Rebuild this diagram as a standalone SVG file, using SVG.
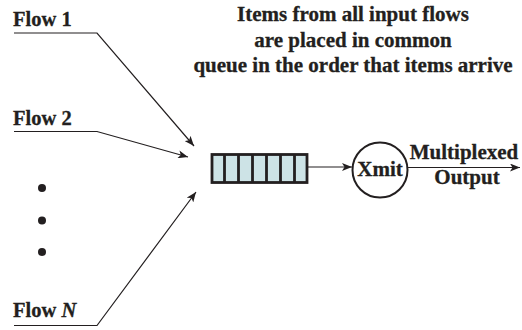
<svg xmlns="http://www.w3.org/2000/svg" width="522" height="330" viewBox="0 0 522 330">
<style>
text{font-family:"Liberation Serif","Times New Roman",serif;font-weight:bold;fill:#231f20;stroke:#231f20;stroke-width:0.3}
.t{font-size:21px;text-anchor:middle}
.f{font-size:20.5px}
.c{fill:none;stroke:#231f20;stroke-width:1.2}
</style>
<defs>
<marker id="ah" markerUnits="userSpaceOnUse" markerWidth="10" markerHeight="8" viewBox="0 0 10 8" refX="10" refY="4" orient="auto">
<path d="M0,0 L10,4 L0,8 L2.5,4 Z" fill="#231f20"/>
</marker>
</defs>
<g id="title">
<text class="t" x="353" y="21">Items from all input flows</text>
<text class="t" x="353" y="46.5">are placed in common</text>
<text class="t" x="353" y="72">queue in the order that items arrive</text>
</g>
<g id="flow1"><text class="f" x="13" y="26">Flow 1</text></g>
<g id="flow2"><text class="f" x="13" y="124.5">Flow 2</text></g>
<g id="flowN"><text class="f" x="13" y="317">Flow <tspan font-style="italic">N</tspan></text></g>
<g id="dots" fill="#231f20">
<circle cx="42" cy="188" r="4"/>
<circle cx="42" cy="220.5" r="4"/>
<circle cx="42" cy="252" r="4"/>
</g>
<g id="queue">
<rect x="212" y="154.5" width="95" height="28" fill="#cde3e6" stroke="#231f20" stroke-width="2.8"/>
<path d="M224.5,154.5V182.5M238.5,154.5V182.5M252.5,154.5V182.5M266.5,154.5V182.5M280.5,154.5V182.5M294.5,154.5V182.5" stroke="#231f20" stroke-width="2.8"/>
</g>
<g id="xmit">
<circle cx="380" cy="170" r="27.5" fill="#fff" stroke="#231f20" stroke-width="2"/>
<text class="t" x="380" y="176">Xmit</text>
</g>
<g id="output">
<text class="t" x="464" y="159">Multiplexed</text>
<text class="t" x="467" y="183.5">Output</text>
</g>
<g id="connectors">
<polyline class="c" points="14,33 97,33 194,146" marker-end="url(#ah)"/>
<polyline class="c" points="14,131.5 97,131.5 188,157" marker-end="url(#ah)"/>
<polyline class="c" points="14,325.5 97,325.5 196,192" marker-end="url(#ah)"/>
<line class="c" x1="308" y1="167" x2="352" y2="167" marker-end="url(#ah)"/>
<line class="c" x1="407.5" y1="167.5" x2="520" y2="167.5" marker-end="url(#ah)"/>
</g>
</svg>
